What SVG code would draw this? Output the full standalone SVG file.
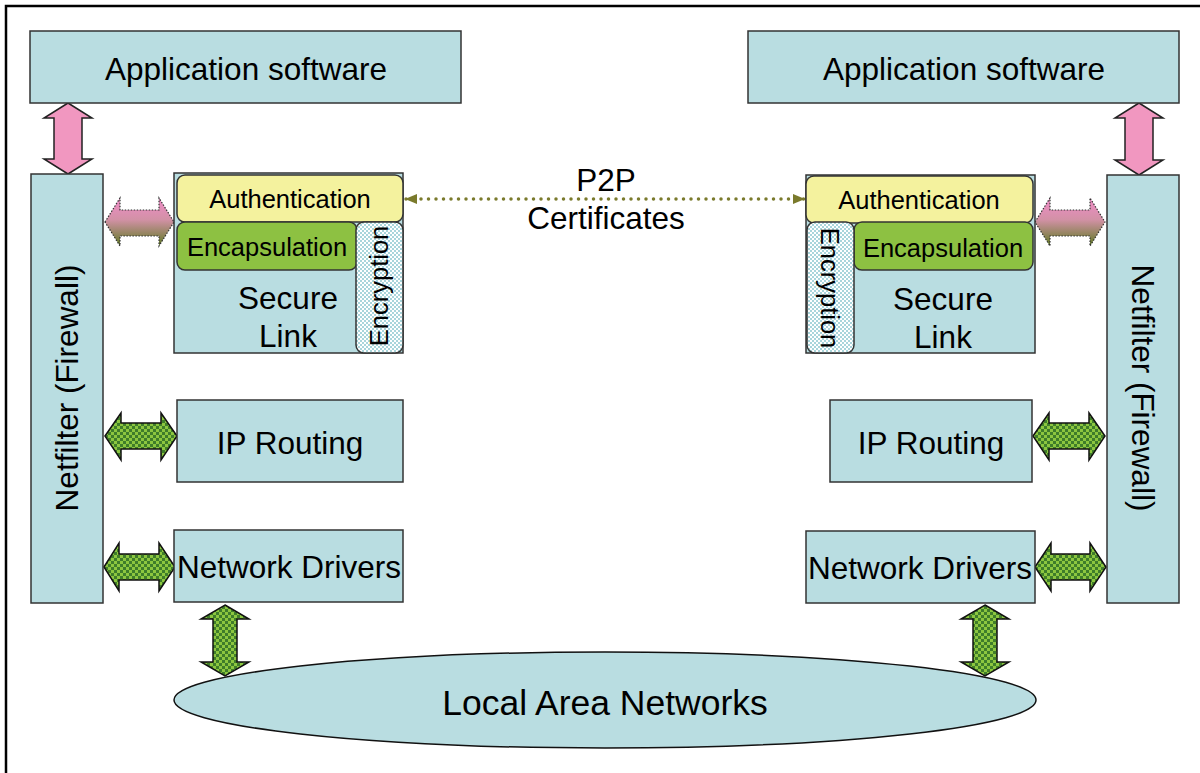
<svg xmlns="http://www.w3.org/2000/svg" width="1200" height="773" viewBox="0 0 1200 773">
<defs>
<style>
text{font-family:"Liberation Sans",Arial,sans-serif;fill:#000;}
.box{fill:#B9DDE1;stroke:#333;stroke-width:1.5;}
.big{font-size:31.5px;}
.sm{font-size:25.5px;}
.auth{fill:#F4F29E;stroke:#333;stroke-width:1.5;}
.enc{fill:#8DC142;stroke:#333;stroke-width:1.5;}
.cry{fill:url(#cryp);stroke:#333;stroke-width:1.5;}
.pink{fill:#F197C0;stroke:#222;stroke-width:1.5;}
.garr{fill:url(#chk);stroke:#111;stroke-width:1.5;}
.grad{fill:url(#pg);stroke:#333;stroke-width:1.2;stroke-dasharray:1.5 1.5;}
</style>
<pattern id="chk" width="6" height="6" patternUnits="userSpaceOnUse">
<rect width="6" height="6" fill="#8CC63F"/>
<rect width="3" height="3" fill="#3F7D2A"/>
<rect x="3" y="3" width="3" height="3" fill="#3F7D2A"/>
</pattern>
<pattern id="cryp" width="4" height="4" patternUnits="userSpaceOnUse">
<rect width="4" height="4" fill="#FFFFFF"/>
<rect width="2" height="2" fill="#A9D5DB"/>
<rect x="2" y="2" width="2" height="2" fill="#A9D5DB"/>
</pattern>
<linearGradient id="pg" x1="0" y1="0" x2="0" y2="1">
<stop offset="0" stop-color="#F08CC8"/>
<stop offset="0.45" stop-color="#D291A6"/>
<stop offset="1" stop-color="#5E7A22"/>
</linearGradient>
<marker id="oh" markerWidth="12" markerHeight="10" refX="11" refY="5" orient="auto-start-reverse" markerUnits="userSpaceOnUse">
<path d="M0,0 L12,5 L0,10 Z" fill="#7A7A2C"/>
</marker>
</defs>

<path d="M6,773 L6,6 L1200,6" fill="none" stroke="#000" stroke-width="2.5"/>

<g id="connectors">
<path class="pink" d="M68,103 L92,118 L82,118 L82,159 L92,159 L68,174 L44,159 L54,159 L54,118 L44,118 Z"/>
<path class="pink" d="M1139,103 L1163,118 L1153,118 L1153,160 L1163,160 L1139,175 L1115,160 L1125,160 L1125,118 L1115,118 Z"/>
<path class="grad" d="M105,222 L120,198 L120,210 L159,210 L159,198 L174,222 L159,246 L159,236 L120,236 L120,246 Z"/>
<path class="grad" d="M1035,222 L1050,198 L1050,210 L1090,210 L1090,198 L1105,222 L1090,246 L1090,236 L1050,236 L1050,246 Z"/>
<path class="garr" d="M105,436 L121,413 L121,423 L161,423 L161,413 L177,436 L161,460 L161,449 L121,449 L121,460 Z"/>
<path class="garr" d="M104,567 L119,543 L119,554 L159,554 L159,543 L175,567 L159,591 L159,580 L119,580 L119,591 Z"/>
<path class="garr" d="M1033,436 L1049,413 L1049,423 L1089,423 L1089,413 L1105,436 L1089,460 L1089,449 L1049,449 L1049,460 Z"/>
<path class="garr" d="M1035,567 L1051,543 L1051,554 L1090,554 L1090,543 L1106,567 L1090,591 L1090,580 L1051,580 L1051,591 Z"/>
<path class="garr" d="M225,605 L249,619 L237,619 L237,662 L249,662 L225,676 L201,662 L213,662 L213,619 L201,619 Z"/>
<path class="garr" d="M985,605 L1009,619 L997,619 L997,662 L1009,662 L985,676 L961,662 L973,662 L973,619 L961,619 Z"/>
<line x1="406" y1="199" x2="804" y2="199" stroke="#7A7A2C" stroke-width="3.5" stroke-linecap="round" stroke-dasharray="0 7.5" marker-start="url(#oh)" marker-end="url(#oh)"/>
</g>

<g id="p2p-label">
<text class="big" x="606" y="191" text-anchor="middle">P2P</text>
<text class="big" x="606" y="229" text-anchor="middle">Certificates</text>
</g>

<g id="app-left">
<rect class="box" x="30" y="31" width="431" height="72"/>
<text class="big" x="246" y="80" text-anchor="middle">Application software</text>
</g>
<g id="app-right">
<rect class="box" x="748" y="31" width="431" height="72"/>
<text class="big" x="964" y="80" text-anchor="middle">Application software</text>
</g>

<g id="netfilter-left">
<rect class="box" x="31" y="174" width="72" height="429"/>
<text class="big" transform="translate(78,388) rotate(-90)" text-anchor="middle">Netfilter (Firewall)</text>
</g>
<g id="netfilter-right">
<rect class="box" x="1107" y="175" width="72" height="428"/>
<text class="big" transform="translate(1132,388) rotate(90)" text-anchor="middle">Netfilter (Firewall)</text>
</g>

<g id="securelink-left">
<rect class="box" x="174" y="173" width="229" height="180"/>
<text class="big" x="288" y="309" text-anchor="middle">Secure</text>
<text class="big" x="288" y="347" text-anchor="middle">Link</text>
</g>
<g id="auth-left">
<rect class="auth" x="177" y="175" width="226" height="47" rx="8"/>
<text class="sm" x="290" y="208" text-anchor="middle">Authentication</text>
</g>
<g id="encap-left">
<rect class="enc" x="177" y="222" width="180" height="48" rx="8"/>
<text class="sm" x="267" y="256" text-anchor="middle">Encapsulation</text>
</g>
<g id="encrypt-left">
<rect class="cry" x="356" y="222" width="47" height="131" rx="8"/>
<text class="sm" transform="translate(388,286) rotate(-90)" text-anchor="middle">Encryption</text>
</g>

<g id="securelink-right">
<rect class="box" x="806" y="175" width="229" height="178"/>
<text class="big" x="943" y="310" text-anchor="middle">Secure</text>
<text class="big" x="943" y="348" text-anchor="middle">Link</text>
</g>
<g id="auth-right">
<rect class="auth" x="806" y="176" width="227" height="47" rx="8"/>
<text class="sm" x="919" y="209" text-anchor="middle">Authentication</text>
</g>
<g id="encap-right">
<rect class="enc" x="854" y="222" width="179" height="48" rx="8"/>
<text class="sm" x="943" y="257" text-anchor="middle">Encapsulation</text>
</g>
<g id="encrypt-right">
<rect class="cry" x="807" y="222" width="47" height="131" rx="8"/>
<text class="sm" transform="translate(821,288) rotate(90)" text-anchor="middle">Encryption</text>
</g>

<g id="iprouting-left">
<rect class="box" x="177" y="400" width="226" height="82"/>
<text class="big" x="290" y="454" text-anchor="middle">IP Routing</text>
</g>
<g id="iprouting-right">
<rect class="box" x="830" y="400" width="202" height="82"/>
<text class="big" x="931" y="454" text-anchor="middle">IP Routing</text>
</g>

<g id="drivers-left">
<rect class="box" x="174" y="530" width="229" height="72"/>
<text class="big" x="289" y="578" text-anchor="middle">Network Drivers</text>
</g>
<g id="drivers-right">
<rect class="box" x="806" y="531" width="229" height="72"/>
<text class="big" x="920" y="579" text-anchor="middle">Network Drivers</text>
</g>

<g id="lan">
<ellipse cx="605" cy="700" rx="431" ry="48" fill="#B9DDE1" stroke="#111" stroke-width="1.5"/>
<text x="605" y="715" text-anchor="middle" font-size="35.5">Local Area Networks</text>
</g>
</svg>
